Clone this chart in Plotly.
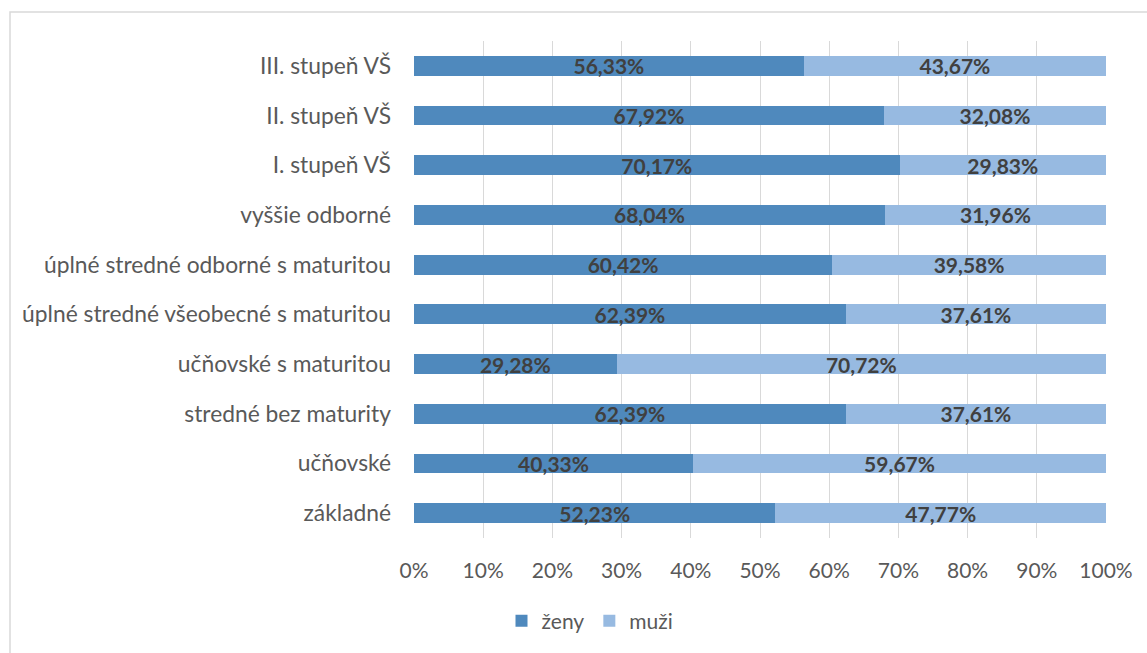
import plotly.graph_objects as go

categories = ["základné", "učňovské", "stredné bez maturity", "učňovské s maturitou",
              "úplné stredné všeobecné s maturitou", "úplné stredné odborné s maturitou",
              "vyššie odborné", "I. stupeň VŠ", "II. stupeň VŠ", "III. stupeň VŠ"]
zeny = [52.23, 40.33, 62.39, 29.28, 62.39, 60.42, 68.04, 70.17, 67.92, 56.33]
muzi = [47.77, 59.67, 37.61, 70.72, 37.61, 39.58, 31.96, 29.83, 32.08, 43.67]
tick_vals = [0, 10, 20, 30, 40, 50, 60, 70, 80, 90, 100]
tick_text = [f"{v}%" for v in tick_vals]

def fmt(v):
    return f"{v:.2f}%".replace(".", ",")

W, H = 1147, 653
L, R, T, B = 414, 41, 41, 115
pw, ph = W - L - R, H - T - B
FONT = "Lato"

fig = go.Figure()
for name, vals, col in [("ženy", zeny, "#4F89BD"), ("muži", muzi, "#97BAE1")]:
    fig.add_trace(go.Bar(y=categories, x=vals, name=name, orientation="h",
                         marker=dict(color=col, line=dict(width=0)),
                         text=[fmt(v) for v in vals], textposition="inside",
                         insidetextanchor="middle", constraintext="none",
                         textangle=0,
                         textfont=dict(family=FONT, size=21, color="#404040", weight="bold"),
                         hoverinfo="skip"))

fig.update_layout(
    width=W, height=H, barmode="stack", bargap=0.6,
    margin=dict(l=L, r=R, t=T, b=B, autoexpand=False),
    paper_bgcolor="white", plot_bgcolor="white",
    font=dict(family=FONT, size=22, color="#595959"),
    uniformtext=dict(mode=False),
    xaxis=dict(range=[0, 100], tickvals=tick_vals, ticktext=tick_text,
               showgrid=True, gridcolor="#D9D9D9", gridwidth=1.3,
               zeroline=False, showline=False, ticks="", ticklabelstandoff=18,
               tickfont=dict(family=FONT, size=21, color="#595959"), fixedrange=True),
    yaxis=dict(categoryorder="array", categoryarray=categories, showgrid=False,
               ticks="", ticklabelstandoff=22, showline=False,
               tickfont=dict(family=FONT, size=22.8, color="#595959"), fixedrange=True),
    legend=dict(orientation="h", x=(590 - L) / pw, xanchor="center",
                y=(T + ph - 621) / ph, yanchor="middle",
                font=dict(family=FONT, size=21, color="#595959"),
                itemwidth=30, traceorder="normal"),
    shapes=[dict(type="rect", xref="paper", yref="paper",
                 x0=(10 - L) / pw, x1=2, y0=-1, y1=1 + (T - 12) / ph,
                 line=dict(color="#D9D9D9", width=1.5), fillcolor="rgba(0,0,0,0)",
                 layer="below")],
)
fig.write_html("out.html", post_script="document.body.style.margin='0';",
               config={"displayModeBar": False})
